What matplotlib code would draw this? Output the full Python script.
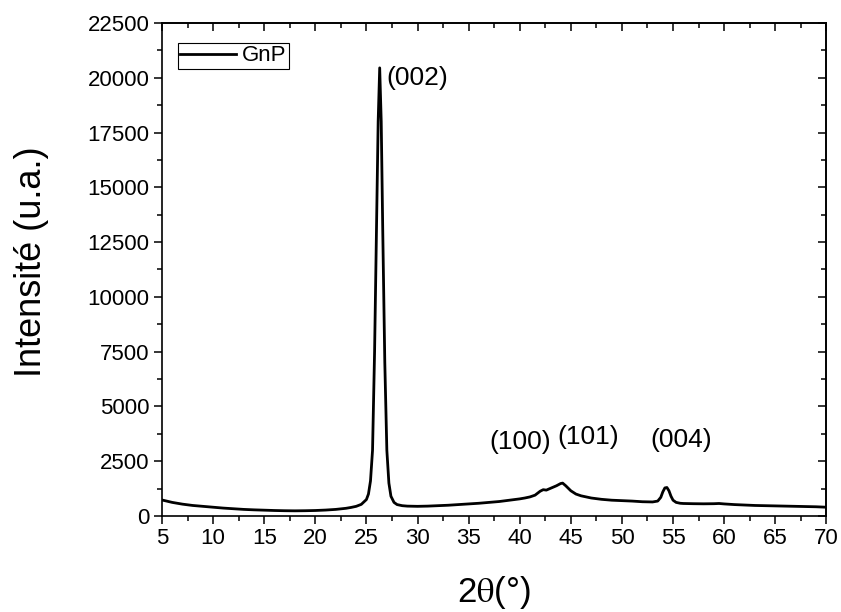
"""
Diffractogramme DRX des nanoplaquettes de graphène (GnP).
Sortie : out.png
"""

import matplotlib
import matplotlib.pyplot as plt
from matplotlib.ticker import MultipleLocator

# 2θ (°) et intensité (u.a.)
TWO_THETA = [
    5, 6, 7, 8, 9, 10, 11, 12, 13, 14, 15, 16, 17, 18, 19, 20, 21, 22, 23,
    23.5, 24, 24.5, 25, 25.2, 25.4, 25.6, 25.8, 26.0, 26.15, 26.3, 26.45,
    26.6, 26.8, 27.0, 27.2, 27.4, 27.7, 28, 28.5, 29, 30, 31, 32, 33, 34,
    35, 36, 37, 38, 39, 40, 40.5, 41, 41.5, 42, 42.3, 42.6, 43, 43.3, 43.6,
    44, 44.2, 44.5, 45, 45.5, 46, 47, 48, 49, 50, 51, 52, 53, 53.5, 53.8,
    54.0, 54.2, 54.4, 54.6, 54.8, 55.0, 55.3, 55.7, 56, 57, 58, 59, 59.5,
    60, 61, 62, 63, 64, 65, 66, 67, 68, 69, 70,
]
INTENSITY = [
    730, 620, 540, 480, 440, 400, 360, 330, 300, 280, 265, 250, 240, 235,
    240, 250, 270, 300, 350, 390, 440, 530, 750, 1000, 1600, 3000, 7500,
    13500, 18000, 20450, 18000, 13000, 7000, 3000, 1500, 900, 620, 520,
    470, 450, 440, 450, 470, 490, 520, 550, 580, 620, 660, 720, 780, 820,
    870, 950, 1130, 1200, 1180, 1260, 1320, 1380, 1480, 1500, 1380, 1150,
    1000, 920, 820, 760, 720, 700, 680, 650, 640, 680, 850, 1100, 1280,
    1300, 1150, 900, 720, 620, 580, 570, 560, 555, 560, 570, 550, 520, 500,
    480, 470, 460, 450, 440, 430, 420, 400,
]

# Indexation des pics : (libellé, 2θ, intensité)
PEAK_LABELS = ["(002)", "(100)", "(101)", "(004)"]
PEAK_X = [27.0, 40.0, 46.7, 55.8]
PEAK_Y = [20000, 3370, 3600, 3470]
PEAK_HA = ["left", "center", "center", "center"]

matplotlib.rcParams.update({
    "font.family": ["Liberation Sans", "DejaVu Sans"],
    "mathtext.fontset": "stix",
    "axes.linewidth": 1.2,
})


def main() -> None:
    fig = plt.figure(figsize=(8.41, 6.12), dpi=100)
    ax = fig.add_axes([0.1926, 0.1569, 0.790, 0.8056])

    ax.plot(TWO_THETA, INTENSITY, color="black", linewidth=2.0, label="GnP")

    for label, x, y, ha in zip(PEAK_LABELS, PEAK_X, PEAK_Y, PEAK_HA):
        ax.text(x, y, label, ha=ha, va="center", fontsize=19)

    ax.set_xlim(5, 70)
    ax.set_ylim(0, 22500)
    ax.xaxis.set_major_locator(MultipleLocator(5))
    ax.xaxis.set_minor_locator(MultipleLocator(2.5))
    ax.yaxis.set_major_locator(MultipleLocator(2500))
    ax.yaxis.set_minor_locator(MultipleLocator(1250))

    ax.tick_params(which="both", direction="out", top=False, right=False,
                   labelsize=16, width=1.1)
    ax.tick_params(which="major", length=6, pad=3)
    ax.tick_params(which="minor", length=3.5)

    # graduations miroir (vers l'intérieur) en haut et à droite
    sec_x = ax.secondary_xaxis("top")
    sec_x.xaxis.set_major_locator(MultipleLocator(5))
    sec_x.xaxis.set_minor_locator(MultipleLocator(2.5))
    sec_x.tick_params(which="both", direction="in", labeltop=False, width=1.1)
    sec_x.tick_params(which="major", length=6)
    sec_x.tick_params(which="minor", length=3.5)
    sec_y = ax.secondary_yaxis("right")
    sec_y.yaxis.set_major_locator(MultipleLocator(2500))
    sec_y.yaxis.set_minor_locator(MultipleLocator(1250))
    sec_y.tick_params(which="both", direction="in", labelright=False, width=1.1)
    sec_y.tick_params(which="major", length=6)
    sec_y.tick_params(which="minor", length=3.5)

    ax.set_xlabel(r"2$\mathrm{\theta}$(°)", fontsize=25, labelpad=18)
    ax.set_ylabel("Intensité (u.a.)", fontsize=26, labelpad=28, y=0.515)

    leg = ax.legend(loc="upper left", bbox_to_anchor=(0.024, 0.959),
                    borderaxespad=0, fontsize=16, handlelength=2.5,
                    handletextpad=0.3, borderpad=0.1, fancybox=False,
                    framealpha=1, edgecolor="black")
    leg.get_frame().set_linewidth(0.8)

    fig.savefig("out.png", dpi=100)
    plt.close(fig)


if __name__ == "__main__":
    main()
